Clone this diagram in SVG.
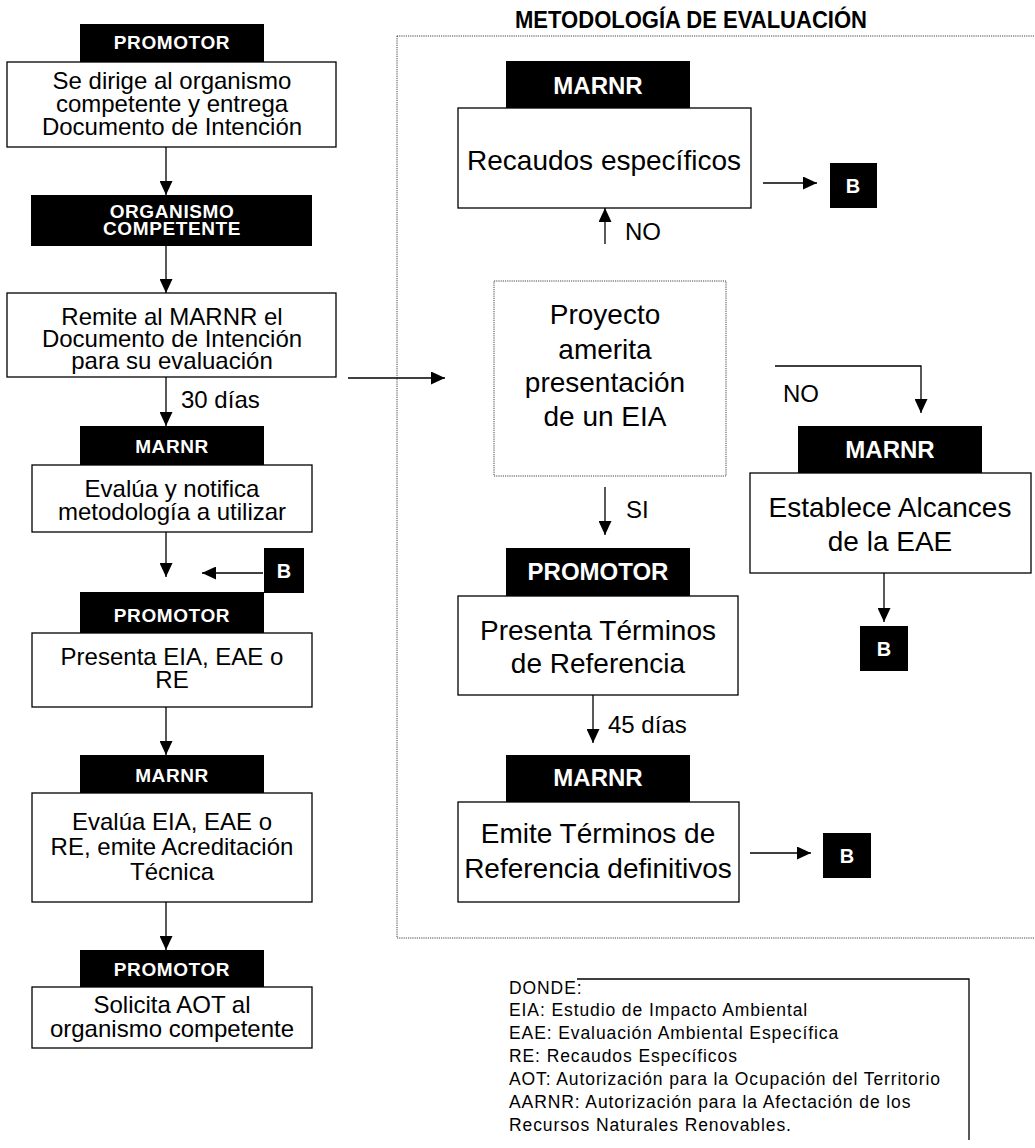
<svg xmlns="http://www.w3.org/2000/svg" width="1035" height="1148" viewBox="0 0 1035 1148">
<defs>
<marker id="ah" markerUnits="userSpaceOnUse" markerWidth="14" markerHeight="13" refX="14" refY="6.5" orient="auto">
<path d="M0,0 L14,6.5 L0,13 z" fill="#000"/>
</marker>
<style>
text{font-family:"Liberation Sans",Arial,sans-serif;fill:#000}
.hd{fill:#000}
.ht{font-weight:bold;fill:#fff;font-size:19px;letter-spacing:0.6px;text-anchor:middle}
.hr{font-weight:bold;fill:#fff;font-size:24px;text-anchor:middle}
.bx{fill:#fff;stroke:#000;stroke-width:1.3}
.t24{font-size:24px;text-anchor:middle}
.t28{font-size:28px;text-anchor:middle}
.lb{font-size:24px}
.cn{fill:none;stroke:#000;stroke-width:1.3}
.dot{fill:none;stroke:#444;stroke-width:1;stroke-dasharray:1.2,1}
.lg{font-size:17.5px;letter-spacing:0.9px}
.bb{font-weight:bold;fill:#fff;font-size:20px;text-anchor:middle}
</style>
</defs>
<rect width="1035" height="1148" fill="#fff"/>

<g id="region">
<text x="515" y="28" font-size="24" font-weight="bold" textLength="352" lengthAdjust="spacingAndGlyphs">METODOLOGÍA DE EVALUACIÓN</text>
<rect class="dot" x="397" y="36" width="643" height="902"/>
</g>

<g id="connectors">
<line class="cn" x1="166" y1="147" x2="166" y2="195" marker-end="url(#ah)"/>
<line class="cn" x1="166" y1="246" x2="166" y2="293" marker-end="url(#ah)"/>
<line class="cn" x1="166" y1="377" x2="166" y2="426" marker-end="url(#ah)"/>
<text class="lb" x="181" y="408">30 días</text>
<line class="cn" x1="166" y1="532" x2="166" y2="577" marker-end="url(#ah)"/>
<line class="cn" x1="263" y1="573" x2="202" y2="573" marker-end="url(#ah)"/>
<line class="cn" x1="166" y1="707" x2="166" y2="755" marker-end="url(#ah)"/>
<line class="cn" x1="166" y1="902" x2="166" y2="950" marker-end="url(#ah)"/>
<line class="cn" x1="348" y1="378" x2="445" y2="378" marker-end="url(#ah)"/>
<line class="cn" x1="763" y1="183" x2="817" y2="183" marker-end="url(#ah)"/>
<line class="cn" x1="605" y1="244" x2="605" y2="208" marker-end="url(#ah)"/>
<text class="lb" x="625" y="240">NO</text>
<polyline class="cn" points="775,366 921,366 921,413" marker-end="url(#ah)"/>
<text class="lb" x="783" y="402">NO</text>
<line class="cn" x1="884" y1="573" x2="884" y2="622" marker-end="url(#ah)"/>
<line class="cn" x1="605" y1="487" x2="605" y2="535" marker-end="url(#ah)"/>
<text class="lb" x="626" y="518">SI</text>
<line class="cn" x1="593" y1="695" x2="593" y2="743" marker-end="url(#ah)"/>
<text class="lb" x="608" y="733">45 días</text>
<line class="cn" x1="750" y1="853" x2="811" y2="853" marker-end="url(#ah)"/>
</g>

<g id="n1">
<rect class="hd" x="80" y="24" width="184" height="38"/>
<text class="ht" x="172" y="49">PROMOTOR</text>
<rect class="bx" x="7" y="62" width="329" height="85"/>
<text class="t24" x="172" y="89">Se dirige al organismo</text>
<text class="t24" x="172" y="112">competente y entrega</text>
<text class="t24" x="172" y="135">Documento de Intención</text>
</g>

<g id="n2">
<rect class="hd" x="31" y="195" width="281" height="51"/>
<text class="ht" x="172" y="218" font-size="18">ORGANISMO</text>
<text class="ht" x="172" y="235" font-size="18">COMPETENTE</text>
</g>

<g id="n3">
<rect class="bx" x="7" y="293" width="329" height="84"/>
<text class="t24" x="172" y="325">Remite al MARNR el</text>
<text class="t24" x="172" y="347">Documento de Intención</text>
<text class="t24" x="172" y="369">para su evaluación</text>
</g>

<g id="n4">
<rect class="hd" x="80" y="426" width="184" height="39"/>
<text class="ht" x="172" y="453">MARNR</text>
<rect class="bx" x="32" y="465" width="280" height="67"/>
<text class="t24" x="172" y="497">Evalúa y notifica</text>
<text class="t24" x="172" y="520">metodología a utilizar</text>
</g>

<g id="b1">
<rect class="hd" x="264" y="548" width="40" height="45"/>
<text class="bb" x="284" y="578">B</text>
</g>

<g id="n5">
<rect class="hd" x="80" y="592" width="184" height="41"/>
<text class="ht" x="172" y="622">PROMOTOR</text>
<rect class="bx" x="32" y="633" width="280" height="74"/>
<text class="t24" x="172" y="665">Presenta EIA, EAE o</text>
<text class="t24" x="172" y="688">RE</text>
</g>

<g id="n6">
<rect class="hd" x="80" y="755" width="184" height="38"/>
<text class="ht" x="172" y="782">MARNR</text>
<rect class="bx" x="32" y="793" width="280" height="109"/>
<text class="t24" x="172" y="830">Evalúa EIA, EAE o</text>
<text class="t24" x="172" y="855">RE, emite Acreditación</text>
<text class="t24" x="172" y="880">Técnica</text>
</g>

<g id="n7">
<rect class="hd" x="80" y="950" width="184" height="37"/>
<text class="ht" x="172" y="976">PROMOTOR</text>
<rect class="bx" x="32" y="987" width="280" height="61"/>
<text class="t24" x="172" y="1013">Solicita AOT al</text>
<text class="t24" x="172" y="1037">organismo competente</text>
</g>

<g id="r1">
<rect class="hd" x="506" y="61" width="184" height="47"/>
<text class="hr" x="598" y="94">MARNR</text>
<rect class="bx" x="458" y="108" width="293" height="100"/>
<text class="t28" x="604" y="170">Recaudos específicos</text>
</g>

<g id="b2">
<rect class="hd" x="830" y="163" width="47" height="45"/>
<text class="bb" x="853" y="193">B</text>
</g>

<g id="r2">
<rect class="dot" x="494" y="281" width="232" height="195"/>
<text class="t28" x="605" y="324">Proyecto</text>
<text class="t28" x="605" y="359">amerita</text>
<text class="t28" x="605" y="392">presentación</text>
<text class="t28" x="605" y="426">de un EIA</text>
</g>

<g id="r3">
<rect class="hd" x="798" y="426" width="184" height="47"/>
<text class="hr" x="890" y="458">MARNR</text>
<rect class="bx" x="750" y="473" width="281" height="100"/>
<text class="t28" x="890" y="517">Establece Alcances</text>
<text class="t28" x="890" y="551">de la EAE</text>
</g>

<g id="b3">
<rect class="hd" x="860" y="626" width="48" height="45"/>
<text class="bb" x="884" y="656">B</text>
</g>

<g id="r4">
<rect class="hd" x="506" y="548" width="184" height="48"/>
<text class="hr" x="598" y="580">PROMOTOR</text>
<rect class="bx" x="458" y="596" width="280" height="99"/>
<text class="t28" x="598" y="640">Presenta Términos</text>
<text class="t28" x="598" y="673">de Referencia</text>
</g>

<g id="r5">
<rect class="hd" x="506" y="755" width="184" height="47"/>
<text class="hr" x="598" y="786">MARNR</text>
<rect class="bx" x="458" y="802" width="281" height="100"/>
<text class="t28" x="598" y="843">Emite Términos de</text>
<text class="t28" x="598" y="878">Referencia definitivos</text>
</g>

<g id="b4">
<rect class="hd" x="823" y="833" width="48" height="45"/>
<text class="bb" x="847" y="863">B</text>
</g>

<g id="legend">
<polyline class="cn" points="577,979 969,979 969,1140"/>
<text class="lg" x="509" y="994">DONDE:</text>
<text class="lg" x="509" y="1016">EIA: Estudio de Impacto Ambiental</text>
<text class="lg" x="509" y="1039">EAE: Evaluación Ambiental Específica</text>
<text class="lg" x="509" y="1062">RE: Recaudos Específicos</text>
<text class="lg" x="509" y="1085">AOT: Autorización para la Ocupación del Territorio</text>
<text class="lg" x="509" y="1108">AARNR: Autorización para la Afectación de los</text>
<text class="lg" x="509" y="1131">Recursos Naturales Renovables.</text>
</g>
</svg>
